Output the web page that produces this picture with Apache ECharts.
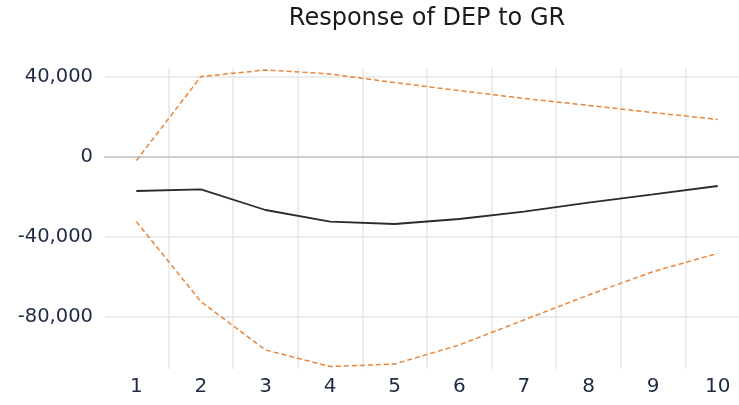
<!DOCTYPE html>
<html>
<head>
<meta charset="utf-8">
<script src="https://cdn.jsdelivr.net/npm/echarts@6/dist/echarts.min.js"></script>
<style>
  html, body { margin: 0; padding: 0; background: #fff; overflow: hidden; }
  /* the plot runs a little past the right edge of the window, as in the reference */
  #container { width: 750px; height: 405px; }
</style>
</head>
<body>
<div id="container"></div>
<script>
var dom = document.getElementById("container");
var myChart = echarts.init(dom);
var option;

// periods on the x axis
var periods = ["1", "2", "3", "4", "5", "6", "7", "8", "9", "10"];

// response of DEP to a GR shock, with +/- 2 s.e. bands
var response = [-17000, -16200, -26500, -32300, -33500, -31000, -27300, -22800, -18700, -14500];
var upperBand = [-1800, 40200, 43500, 41500, 37200, 33200, 29300, 25800, 22200, 18800];
var lowerBand = [-32300, -72300, -96500, -104800, -103500, -94000, -81500, -69000, -57300, -48200];

// y tick labels
var yTicks = [-80000, -40000, 0, 40000];

var fontName = "DejaVu Sans";

option = {
  animation: false,
  backgroundColor: "#fff",
  title: {
    text: "Response of DEP to GR",
    left: 422,
    top: 2,
    textAlign: "center",
    textStyle: {
      fontFamily: fontName,
      fontSize: 24,
      fontWeight: "normal",
      color: "#1a1a1a",
    },
  },
  grid: {
    left: 104,
    top: 68,
    right: 0,
    bottom: 36,
  },
  xAxis: {
    type: "category",
    data: periods,
    boundaryGap: true,
    axisLine: { show: false },
    axisTick: { show: false },
    axisLabel: {
      margin: 8,
      fontFamily: fontName,
      fontSize: 20,
      color: "#1f2a44",
    },
    splitLine: {
      show: true,
      lineStyle: { color: "#e6e6e6", width: 1.5 },
    },
  },
  yAxis: {
    type: "value",
    min: -106000,
    max: 44500,
    // white axis line hides the grid line on the left edge of the plot
    axisLine: { show: true, lineStyle: { color: "#fff", width: 2 } },
    axisTick: { show: false, customValues: yTicks },
    axisLabel: {
      customValues: yTicks,
      margin: 11,
      padding: [0, 0, 7, 0],
      fontFamily: fontName,
      fontSize: 19.5,
      color: "#1f2a44",
      formatter: function (v) {
        return v.toLocaleString("en-US");
      },
    },
    splitLine: {
      show: true,
      lineStyle: { color: "#e6e6e6", width: 1.5 },
    },
  },
  series: [
    {
      name: "upper",
      type: "line",
      data: upperBand,
      symbol: "none",
      lineStyle: { color: "#e8853a", width: 1.5, type: [5, 3] },
      z: 3,
    },
    {
      name: "lower",
      type: "line",
      data: lowerBand,
      symbol: "none",
      lineStyle: { color: "#e8853a", width: 1.5, type: [5, 3] },
      z: 3,
    },
    {
      name: "response",
      type: "line",
      data: response,
      symbol: "none",
      lineStyle: { color: "#2b2b2b", width: 1.8 },
      z: 4,
      markLine: {
        silent: true,
        symbol: "none",
        label: { show: false },
        lineStyle: { color: "#c4c4c4", width: 1.6, type: "solid" },
        data: [{ yAxis: 0 }],
        z: 2,
      },
    },
  ],
};

myChart.setOption(option);
</script>
</body>
</html>
